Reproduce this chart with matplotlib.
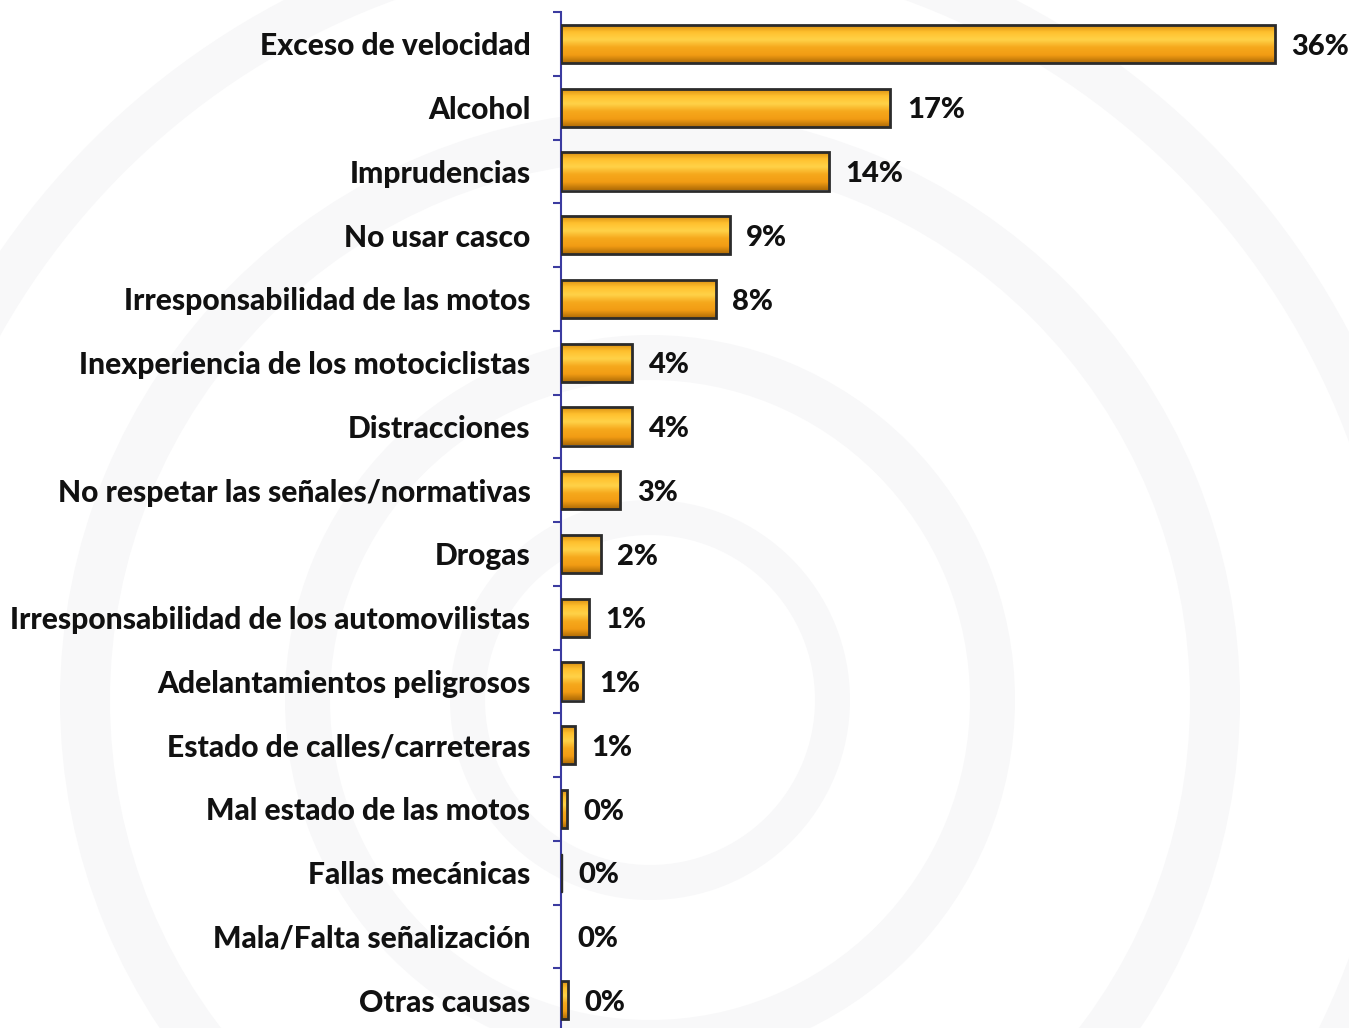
import matplotlib.pyplot as plt
import numpy as np
from matplotlib.colors import LinearSegmentedColormap
from matplotlib.patches import Rectangle, Wedge

categories = [
    "Exceso de velocidad",
    "Alcohol",
    "Imprudencias",
    "No usar casco",
    "Irresponsabilidad de las motos",
    "Inexperiencia de los motociclistas",
    "Distracciones",
    "No respetar las señales/normativas",
    "Drogas",
    "Irresponsabilidad de los automovilistas",
    "Adelantamientos peligrosos",
    "Estado de calles/carreteras",
    "Mal estado de las motos",
    "Fallas mecánicas",
    "Mala/Falta señalización",
    "Otras causas",
]
values = [36.0, 16.6, 13.5, 8.5, 7.8, 3.6, 3.6, 3.0, 2.0, 1.4, 1.1, 0.7, 0.3, 0.05, 0.0, 0.35]
value_labels = ["36%", "17%", "14%", "9%", "8%", "4%", "4%", "3%", "2%",
                "1%", "1%", "1%", "0%", "0%", "0%", "0%"]

W, H = 1349, 1028
FONT = "Lato"
WEIGHT = 900

fig = plt.figure(figsize=(W / 100, H / 100), dpi=100)

# faint watermark rings in the background
bg = fig.add_axes([0, 0, 1, 1], zorder=-1)
bg.set_xlim(0, W)
bg.set_ylim(H, 0)
bg.axis("off")
for r, w in [(200, 35), (365, 45), (590, 50), (790, 45)]:
    bg.add_patch(Wedge((650, 700), r, 0, 360, width=w, color="#F8F8F9", lw=0))

ax = fig.add_axes([561 / W, -4 / H, 1 - 561 / W, 1020 / H])
ax.patch.set_alpha(0)

n = len(categories)
ypos = np.arange(n)
bar_h = 0.6

grad = LinearSegmentedColormap.from_list(
    "bar", ["#B06C06", "#F29C14", "#F6A81C", "#FFD248", "#FFC02E", "#D68A0E"])
img = grad(np.linspace(1, 0, 64))[:, None, :]

for y, v in zip(ypos, values):
    if v <= 0:
        continue
    rect = Rectangle((0, y - bar_h / 2), v, bar_h, facecolor="none",
                     edgecolor="#2b2b2b", lw=2 if v > 0.2 else 1, zorder=3)
    ax.add_patch(rect)
    im = ax.imshow(img, extent=(0, v, y + bar_h / 2, y - bar_h / 2),
                   aspect="auto", zorder=2, interpolation="bilinear")
    im.set_clip_path(rect)

for y, v, lab in zip(ypos, values, value_labels):
    ax.annotate(lab, (v, y), xytext=(12, -2), textcoords="offset points",
                va="center", ha="left", fontsize=21, fontweight=WEIGHT,
                family=FONT, color="#111111")

ax.set_xlim(0, 39.75)
ax.set_ylim(n - 0.5, -0.5)
ax.set_aspect("auto")

ax.set_yticks(ypos)
ax.set_yticklabels(categories, fontsize=21.6, fontweight=WEIGHT, family=FONT,
                   color="#111111")
ax.set_yticks(np.arange(n + 1) - 0.5, minor=True)
ax.tick_params(axis="y", which="major", length=0, pad=22)
ax.tick_params(axis="y", which="minor", length=6, width=1.5, color="#3B3BA0")
ax.set_xticks([])

for s in ["top", "right", "bottom"]:
    ax.spines[s].set_visible(False)
ax.spines["left"].set_color("#3B3BA0")
ax.spines["left"].set_linewidth(1.5)

fig.savefig("out.png", dpi=100)
